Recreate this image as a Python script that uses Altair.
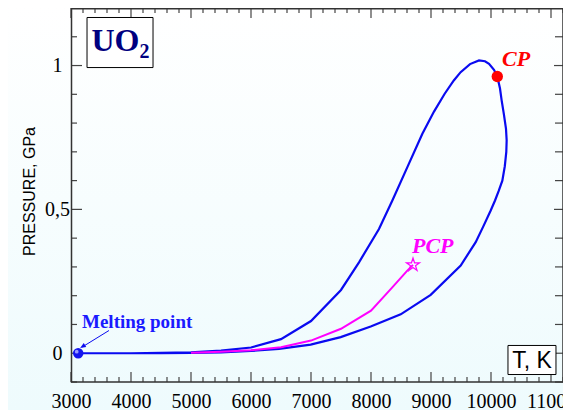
import altair as alt
import pandas as pd

# ---------------- data ----------------
# binodal loop (T in K, P in GPa), traversed from melting point round the CP
loop_T = [3120, 4000, 4500, 5000, 5500, 6000, 6500, 7000, 7500, 7800,
          8133, 8356, 8606, 8856, 9050, 9228, 9380, 9494, 9650, 9800,
          9900, 9967, 10050, 10105, 10150, 10178, 10215, 10250, 10261, 10255,
          10230, 10189, 10130, 10067, 9995, 9870, 9745, 9495, 8995, 8495,
          7995, 7495, 6995, 6467, 6000, 5500, 5000, 4500]
loop_P = [0, 0, 0.001, 0.003, 0.009, 0.02, 0.049, 0.112, 0.22, 0.316,
          0.432, 0.531, 0.647, 0.763, 0.84, 0.902, 0.948, 0.977, 1.005, 1.018,
          1.015, 1.006, 0.985, 0.962, 0.92, 0.878, 0.83, 0.78, 0.74, 0.70,
          0.65, 0.60, 0.565, 0.531, 0.496, 0.44, 0.386, 0.305, 0.203, 0.135,
          0.093, 0.056, 0.030, 0.015, 0.008, 0.003, 0.001, 0.0]

# PCP curve
pcp_T = [5000, 5500, 6000, 6500, 7000, 7500, 8000, 8355, 8605, 8700]
pcp_P = [0.002, 0.005, 0.010, 0.021, 0.044, 0.085, 0.148, 0.229, 0.287, 0.307]

melt_T, melt_P = 3120, 0.0
cp_T, cp_P = 10105, 0.962
pcpt_T, pcpt_P = 8700, 0.307

x_major = [3000, 4000, 5000, 6000, 7000, 8000, 9000, 10000, 11000]
x_minor = [t for t in range(3000, 11201, 200) if t % 1000 != 0]
y_major = [0, 0.5, 1]
y_minor = [-0.1, 0.1, 0.2, 0.3, 0.4, 0.6, 0.7, 0.8, 0.9, 1.1]

W, H = 492, 374
SERIF = "Liberation Serif"
SANS = "Liberation Sans"
BLUE = "#0a0af0"
MAG = "#ff00ff"
STAR = ("M0,-1L0.2245,-0.309L0.951,-0.309L0.363,0.118L0.588,0.809L0,0.382"
        "L-0.588,0.809L-0.363,0.118L-0.951,-0.309L-0.2245,-0.309Z")
TRI = "M0,-1L0.7,0.7L-0.7,0.7Z"

xs = alt.Scale(domain=[3000, 11200], nice=False, zero=False)
ys = alt.Scale(domain=[-0.1, 1.2], nice=False, zero=False)

AX = alt.Axis(orient="bottom", values=x_major, format="d", grid=False,
              ticks=False, domain=False, title=None, labelFont=SERIF,
              labelFontSize=20, labelColor="black",
              labelBaseline="alphabetic", labelPadding=25,
              labelFlush=False, labelOverlap=False, zindex=2)
AY = alt.Axis(orient="left", values=y_major, format="~g",
              labelExpr="replace(datum.label, '.', ',')",
              grid=False, ticks=False, domain=False,
              title="PRESSURE, GPa", titleFont=SANS,
              titleFontSize=16, titleFontWeight="normal",
              titleColor="black", titleX=-37, titleY=H / 2 - 4,
              titleBaseline="alphabetic",
              labelFont=SERIF, labelFontSize=20,
              labelColor="black", labelAlign="center",
              labelBaseline="middle", labelPadding=14,
              labelFlush=False, labelOverlap=False, zindex=2)


def X(f="T"):
    return alt.X(f"{f}:Q", scale=xs, axis=AX)


def Y(f="P"):
    return alt.Y(f"{f}:Q", scale=ys, axis=AY)


loop_df = pd.DataFrame({"T": loop_T, "P": loop_P, "o": list(range(len(loop_T)))})
pcp_df = pd.DataFrame({"T": pcp_T, "P": pcp_P, "o": list(range(len(pcp_T)))})
one = pd.DataFrame({"a": [0]})

# background gradient over whole svg
bg = alt.Chart(one).mark_rect(
    color=alt.Gradient(gradient="linear",
                       stops=[alt.GradientStop(color="#ffffff", offset=0),
                              alt.GradientStop(color="#eefbfd", offset=1)],
                       x1=0, x2=0, y1=0, y2=1)
).encode(x=alt.value(-63), x2=alt.value(W + 10), y=alt.value(-2), y2=alt.value(H + 30))

loop = alt.Chart(loop_df).mark_line(color=BLUE, strokeWidth=2.2).encode(x=X(), y=Y(), order="o:Q")
pcp = alt.Chart(pcp_df).mark_line(color=MAG, strokeWidth=2).encode(x=X(), y=Y(), order="o:Q")


# ticks (inward)
def xt(vals, length, top):
    df = pd.DataFrame({"T": vals})
    if top:
        yy, yy2 = alt.value(0), alt.value(length)
    else:
        yy, yy2 = alt.value(H), alt.value(H - length)
    return alt.Chart(df).mark_rule(color="#444", strokeWidth=1.2).encode(x=X(), y=yy, y2=yy2)


def yt(vals, length, right):
    df = pd.DataFrame({"P": vals})
    if right:
        xx, xx2 = alt.value(W), alt.value(W - length)
    else:
        xx, xx2 = alt.value(0), alt.value(length)
    return alt.Chart(df).mark_rule(color="#444", strokeWidth=1.2).encode(y=Y(), x=xx, x2=xx2)


ticks = [xt(x_major, 10, False), xt(x_minor, 5, False), xt(x_major, 10, True), xt(x_minor, 5, True),
         yt(y_major, 11, False), yt(y_minor, 6, False), yt(y_major, 9, True), yt(y_minor, 8, True)]

frame = alt.Chart(one).mark_rect(filled=False, stroke="#333", strokeWidth=1.5).encode(
    x=alt.value(0.5), x2=alt.value(W), y=alt.value(0.75), y2=alt.value(H))


def pt(T, P):
    return pd.DataFrame({"T": [T], "P": [P]})


# arrow to melting point
arrow_T = [3633, 3190]
arrow_P = [0.079, 0.022]
arrow_df = pd.DataFrame({"T": arrow_T, "P": arrow_P})
arrow = alt.Chart(arrow_df).mark_line(color=BLUE, strokeWidth=1).encode(x=X(), y=Y())
arrow_head = alt.Chart(pt(3200, 0.024)).mark_point(shape=TRI, size=45, angle=238, filled=True,
                                                   color=BLUE, opacity=1).encode(x=X(), y=Y())

# markers
melt = alt.Chart(pt(melt_T, melt_P)).mark_circle(size=110, color="#1515ee", opacity=1).encode(x=X(), y=Y())
melt_hi = alt.Chart(pt(melt_T, melt_P)).mark_circle(size=14, color="#9a9aff", opacity=1,
                                                    xOffset=-1.5, yOffset=-1.5).encode(x=X(), y=Y())
cp = alt.Chart(pt(cp_T, cp_P)).mark_circle(size=130, color="#ff0000", opacity=1).encode(x=X(), y=Y())
star = alt.Chart(pt(pcpt_T, pcpt_P)).mark_point(shape=STAR, size=190, color=MAG, filled=False,
                                                strokeWidth=1.2, opacity=1).encode(x=X(), y=Y())


# texts
def txt(s, T, P, **kw):
    df = pd.DataFrame({"T": [T], "P": [P], "s": [s]})
    return alt.Chart(df).mark_text(baseline="alphabetic", **kw).encode(x=X(), y=Y(), text="s:N")


t_cp = txt("CP", 10183, 1.0, align="left", font=SERIF, fontSize=22, fontWeight="bold",
           fontStyle="italic", color="#ff0000")
t_pcp = txt("PCP", 8683, 0.35, align="left", font=SERIF, fontSize=22, fontWeight="bold",
            fontStyle="italic", color=MAG)
t_melt = txt("Melting point", 3183, 0.088, align="left", font=SERIF, fontSize=19,
             fontWeight="bold", color="#1a1aff")


def box(T1, T2, P1, P2):
    df = pd.DataFrame({"T": [T1], "T2": [T2], "P": [P1], "P2": [P2]})
    return alt.Chart(df).mark_rect(fill="white", stroke="black", strokeWidth=1).encode(
        x=X(), x2="T2:Q", y=Y(), y2="P2:Q")


# UO2 box
uo_box = box(3267, 4367, 1.167, 0.993)
t_uo = txt("UO", 3340, 1.052, align="left", font=SERIF, fontSize=32, fontWeight="bold", color="#000080")
t_2 = txt("2", 4140, 1.027, align="left", font=SERIF, fontSize=20, fontWeight="bold", color="#000080")

# T, K box
tk_box = box(10283, 11083, 0.027, -0.074)
t_tk = txt("T, K", 10683, -0.05, align="center", font=SANS, fontSize=23, color="black")

chart = alt.layer(
    bg, loop, pcp, *ticks, frame, uo_box, tk_box, arrow, arrow_head, melt, melt_hi, cp,
    t_cp, t_pcp, t_melt, t_uo, t_2, t_tk, star
).properties(
    width=W, height=H,
    autosize=alt.AutoSizeParams(type="none"),
    padding={"left": 63, "top": 0, "right": 0, "bottom": 28},
    background="#ffffff",
).configure_view(strokeWidth=0)

chart.save("out.html", embed_options={"renderer": "svg", "actions": False})
